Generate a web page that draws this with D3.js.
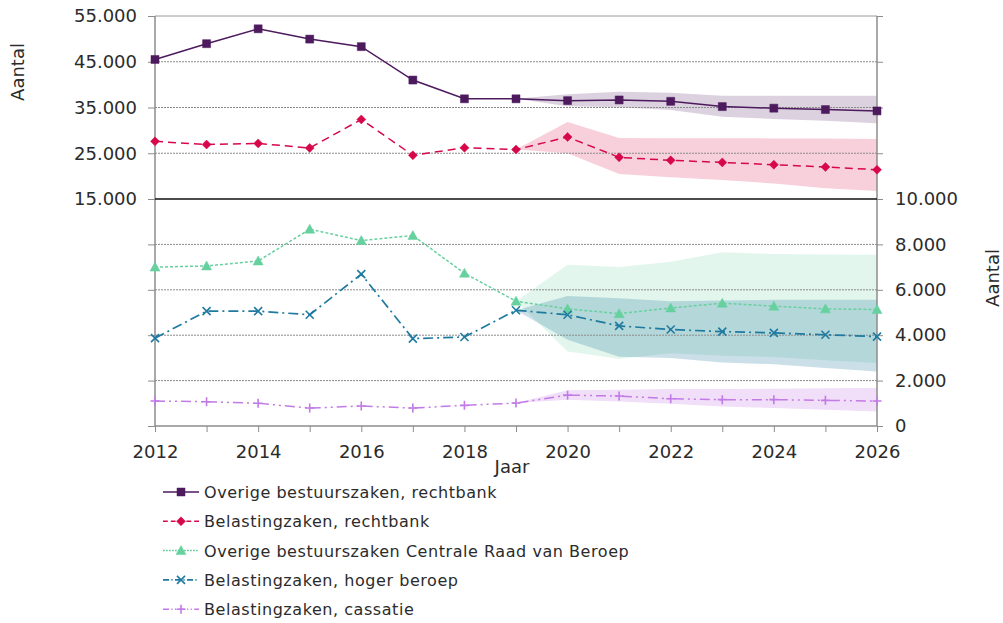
<!DOCTYPE html>
<html>
<head>
<meta charset="utf-8">
<script src="https://cdn.jsdelivr.net/npm/d3@7"></script>
<style>
  body { margin: 0; background: #fff; }
  svg { display: block; font-family: "DejaVu Sans", Verdana, sans-serif; }
  .axis text { fill: #2b2b2b; font-size: 18px; font-family: "DejaVu Sans", Verdana, sans-serif; }
  .axis line { stroke: #8c8c8c; }
  .axis path { display: none; }
</style>
</head>
<body>
<svg></svg>
<script>
// jaren
let years = [2012, 2013, 2014, 2015, 2016, 2017, 2018, 2019, 2020, 2021, 2022, 2023, 2024, 2025, 2026];
let bandYears = [2019, 2020, 2021, 2022, 2023, 2024, 2025, 2026];

// bovenste paneel (linker as)
let overigeRb = [45500, 48950, 52200, 49950, 48300, 41000, 36900, 36900, 36500, 36650, 36350, 35200, 34850, 34550, 34250];
let belastingRb = [27600, 26900, 27150, 26150, 32400, 24550, 26200, 25800, 28550, 24100, 23450, 23000, 22500, 22000, 21400];

let overigeRbHigh = [36900, 37900, 38450, 38250, 37550, 37550, 37550, 37550];
let overigeRbLow = [36900, 35300, 35050, 34450, 33000, 32500, 32100, 31550];
let belastingRbHigh = [25800, 31850, 28350, 28300, 28300, 28250, 28200, 28100];
let belastingRbLow = [25800, 25000, 20450, 19750, 19150, 18400, 17350, 16750];

// onderste paneel (rechter as)
let overigeCrvb = [7000, 7050, 7270, 8670, 8170, 8390, 6730, 5500, 5160, 4950, 5200, 5410, 5280, 5160, 5130];
let belastingHb = [3870, 5060, 5060, 4900, 6690, 3850, 3920, 5100, 4900, 4410, 4250, 4160, 4100, 4020, 3940];
let belastingCas = [1100, 1070, 1000, 790, 880, 790, 910, 1010, 1360, 1320, 1200, 1160, 1160, 1130, 1100];

let overigeCrvbHigh = [5500, 7100, 7000, 7240, 7650, 7580, 7550, 7540];
let overigeCrvbLow = [5500, 3280, 2960, 3200, 3100, 3040, 2900, 2770];
let belastingHbHigh = [5100, 5730, 5630, 5500, 5530, 5560, 5560, 5560];
let belastingHbLow = [5100, 3800, 3050, 3000, 2800, 2720, 2560, 2400];
let belastingCasHigh = [1010, 1570, 1600, 1630, 1630, 1640, 1660, 1670];
let belastingCasLow = [1010, 1160, 1080, 980, 860, 790, 720, 640];

let topTicks = [15000, 25000, 35000, 45000, 55000];
let bottomTicks = [0, 2000, 4000, 6000, 8000, 10000];

let width = 1003;
let height = 623;

let svg = d3.select("svg").attr("width", width).attr("height", height);

let nl = d3.formatLocale({ decimal: ",", thousands: ".", grouping: [3], currency: ["€", ""] });
let fmt = nl.format(",");

let xScale = d3.scaleLinear().domain([2012, 2026]).range([155, 877]);
let yTop = d3.scaleLinear().domain([15000, 55000]).range([199, 16]);
let yBottom = d3.scaleLinear().domain([0, 10000]).range([426, 199]);

let series = [
    { name: "Overige bestuurszaken, rechtbank", values: overigeRb, y: yTop, color: "#4d1a5e", dash: null, width: 1.5, marker: "square",
      band: [overigeRbHigh, overigeRbLow], bandColor: "#4d1a5e", bandOpacity: 0.2 },
    { name: "Belastingzaken, rechtbank", values: belastingRb, y: yTop, color: "#d6084a", dash: "8,5", width: 1.5, marker: "diamond",
      band: [belastingRbHigh, belastingRbLow], bandColor: "#dd2a60", bandOpacity: 0.22 },
    { name: "Overige bestuurszaken Centrale Raad van Beroep", values: overigeCrvb, y: yBottom, color: "#66d09f", dash: "3,2", width: 1.5, marker: "triangle",
      band: [overigeCrvbHigh, overigeCrvbLow], bandColor: "#6fd3a7", bandOpacity: 0.2 },
    { name: "Belastingzaken, hoger beroep", values: belastingHb, y: yBottom, color: "#1f7aa0", dash: "10,4,2,4", width: 1.7, marker: "x",
      band: [belastingHbHigh, belastingHbLow], bandColor: "#2a7f9e", bandOpacity: 0.25 },
    { name: "Belastingzaken, cassatie", values: belastingCas, y: yBottom, color: "#c27ae6", dash: "10,4,2,4,2,4", width: 1.5, marker: "plus",
      band: [belastingCasHigh, belastingCasLow], bandColor: "#c77de8", bandOpacity: 0.25 }
];

let markerPath = (type) => {
    if (type === "square") return "M-4,-4H4V4H-4Z";
    if (type === "diamond") return "M0,-4.5L4.5,0L0,4.5L-4.5,0Z";
    if (type === "triangle") return "M0,-5L5,4H-5Z";
    if (type === "x") return "M-4,-4L4,4M-4,4L4,-4";
    return "M-4.5,0H4.5M0,-4.5V4.5";
};

let drawMarker = (g, type, color) => {
    let filled = type === "square" || type === "diamond" || type === "triangle";
    g.append("path")
        .attr("d", markerPath(type))
        .attr("fill", filled ? color : "none")
        .attr("stroke", color)
        .attr("stroke-width", filled ? 0.5 : 1.6);
};

let drawBands = () => {
    series.forEach((s) => {
        let area = d3.area()
            .x((d, i) => xScale(bandYears[i]))
            .y0((d, i) => s.y(s.band[1][i]))
            .y1((d) => s.y(d));
        svg.append("path")
            .datum(s.band[0])
            .attr("d", area)
            .attr("fill", s.bandColor)
            .attr("fill-opacity", s.bandOpacity);
    });
}

let drawGrid = () => {
    let grid = svg.append("g").attr("class", "grid");
    [25000, 35000, 45000].forEach((v) => {
        grid.append("line")
            .attr("x1", xScale(2012)).attr("x2", xScale(2026))
            .attr("y1", yTop(v)).attr("y2", yTop(v))
            .attr("stroke", "#8a8a8a").attr("stroke-dasharray", "2,1");
    });
    [2000, 4000, 6000, 8000].forEach((v) => {
        grid.append("line")
            .attr("x1", xScale(2012)).attr("x2", xScale(2026))
            .attr("y1", yBottom(v)).attr("y2", yBottom(v))
            .attr("stroke", "#8a8a8a").attr("stroke-dasharray", "2,1");
    });
    // bovenrand
    grid.append("line")
        .attr("x1", xScale(2012)).attr("x2", xScale(2026))
        .attr("y1", yTop(55000)).attr("y2", yTop(55000))
        .attr("stroke", "#9a9a9a");
}

let drawAxes = () => {
    svg.append("g")
        .attr("class", "axis")
        .attr("transform", "translate(" + xScale(2012) + ",0)")
        .call(d3.axisLeft(yTop).tickValues(topTicks).tickFormat(fmt).tickSize(7).tickPadding(11));

    svg.append("g")
        .attr("class", "axis")
        .attr("transform", "translate(" + xScale(2012) + ",0)")
        .call(d3.axisLeft(yBottom).tickValues(bottomTicks).tickFormat("").tickSize(7));

    svg.append("g")
        .attr("class", "axis")
        .attr("transform", "translate(" + xScale(2026) + ",0)")
        .call(d3.axisRight(yBottom).tickValues(bottomTicks).tickFormat(fmt).tickSize(6).tickPadding(12));

    svg.append("g")
        .attr("class", "axis")
        .attr("transform", "translate(" + xScale(2026) + ",0)")
        .call(d3.axisRight(yTop).tickValues(topTicks).tickFormat("").tickSize(6));

    svg.append("g")
        .attr("class", "axis")
        .attr("transform", "translate(0," + yBottom(0) + ")")
        .call(d3.axisBottom(xScale).tickValues(years).tickFormat((d) => d % 2 === 0 ? d : "").tickSize(6).tickPadding(13));

    // aslijnen
    svg.append("line")
        .attr("x1", xScale(2012)).attr("x2", xScale(2012))
        .attr("y1", yTop(55000)).attr("y2", yBottom(0))
        .attr("stroke", "#8c8c8c").attr("stroke-width", 1.5);
    svg.append("line")
        .attr("x1", xScale(2026)).attr("x2", xScale(2026))
        .attr("y1", yTop(55000)).attr("y2", yBottom(0))
        .attr("stroke", "#8c8c8c").attr("stroke-width", 1.5);
    svg.append("line")
        .attr("x1", xScale(2012)).attr("x2", xScale(2026))
        .attr("y1", yBottom(0)).attr("y2", yBottom(0))
        .attr("stroke", "#8c8c8c").attr("stroke-width", 1.5);
    // scheidingslijn tussen panelen
    svg.append("line")
        .attr("x1", xScale(2012)).attr("x2", xScale(2026))
        .attr("y1", yTop(15000)).attr("y2", yTop(15000))
        .attr("stroke", "#111").attr("stroke-width", 1.3);

    svg.append("text")
        .attr("transform", "translate(24,72) rotate(-90)")
        .attr("text-anchor", "middle")
        .attr("font-size", 18).attr("fill", "#2b2b2b")
        .text("Aantal");
    svg.append("text")
        .attr("transform", "translate(999,278) rotate(-90)")
        .attr("text-anchor", "middle")
        .attr("font-size", 18).attr("fill", "#2b2b2b")
        .text("Aantal");
    svg.append("text")
        .attr("x", 512).attr("y", 473)
        .attr("text-anchor", "middle")
        .attr("font-size", 18).attr("fill", "#2b2b2b")
        .text("Jaar");
}

let drawLines = () => {
    series.forEach((s) => {
        let line = d3.line()
            .x((d, i) => xScale(years[i]))
            .y((d) => s.y(d));
        svg.append("path")
            .datum(s.values)
            .attr("d", line)
            .attr("fill", "none")
            .attr("stroke", s.color)
            .attr("stroke-width", s.width)
            .attr("stroke-dasharray", s.dash);

        svg.append("g").selectAll("g")
            .data(s.values)
            .enter()
            .append("g")
            .attr("transform", (d, i) => "translate(" + xScale(years[i]) + "," + s.y(d) + ")")
            .each(function () { drawMarker(d3.select(this), s.marker, s.color); });
    });
}

let drawLegend = () => {
    let legend = svg.append("g").attr("transform", "translate(163,492)");
    series.forEach((s, i) => {
        let row = legend.append("g").attr("transform", "translate(0," + (i * 29.3) + ")");
        row.append("line")
            .attr("x1", 0).attr("x2", 36)
            .attr("stroke", s.color)
            .attr("stroke-width", s.width)
            .attr("stroke-dasharray", s.dash ? s.dash.split(",").map((v) => v * 0.6).join(",") : null);
        drawMarker(row.append("g").attr("transform", "translate(18,0)"), s.marker, s.color);
        row.append("text")
            .attr("x", 41).attr("y", 6)
            .attr("font-size", 16).attr("letter-spacing", 0.55).attr("fill", "#2b2b2b")
            .text(s.name);
    });
}

drawBands();
drawGrid();
drawAxes();
drawLines();
drawLegend();
</script>
</body>
</html>
